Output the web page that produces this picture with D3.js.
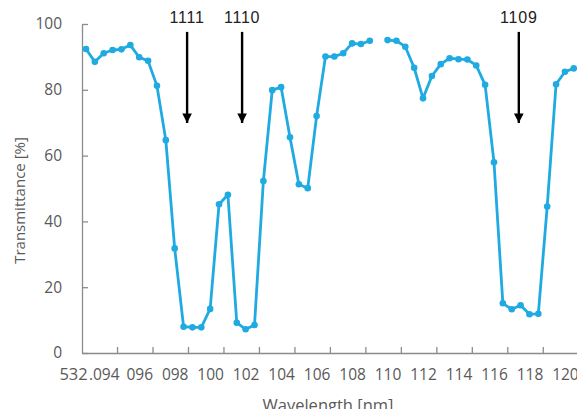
<!DOCTYPE html>
<html>
<head>
<meta charset="utf-8">
<script src="https://cdn.jsdelivr.net/npm/d3@7"></script>
<style>
  body { margin: 0; background: #fff; }
  svg { display: block; }
  .tick text { font-family: "Open Sans", sans-serif; fill: #595959; }
</style>
</head>
<body>
<div id="chart"></div>
<script>
// wavelength offsets, 532.0xx nm (pm part), one point every 0.5 pm
const wavelengths = [93, 93.5, 94, 94.5, 95, 95.5, 96, 96.5, 97, 97.5,
  98, 98.5, 99, 99.5, 100, 100.5, 101, 101.5, 102, 102.5,
  103, 103.5, 104, 104.5, 105, 105.5, 106, 106.5, 107, 107.5,
  108, 108.5, 109, 109.5, 110, 110.5, 111, 111.5, 112, 112.5,
  113, 113.5, 114, 114.5, 115, 115.5, 116, 116.5, 117, 117.5,
  118, 118.5, 119, 119.5, 120, 120.5]
const transmittance = [92.4, 88.5, 91.1, 92.1, 92.3, 93.6, 89.9, 88.8, 81.2, 64.7,
  31.8, 8.0, 7.8, 7.8, 13.4, 45.2, 48.1, 9.2, 7.2, 8.5,
  52.3, 79.9, 80.8, 65.6, 51.3, 50.1, 72.0, 90.1, 90.1, 91.1,
  94.1, 93.9, 94.9, null, 95.1, 94.9, 93.1, 86.7, 77.4, 84.2,
  87.8, 89.6, 89.3, 89.2, 87.4, 81.5, 58.0, 15.1, 13.3, 14.5,
  11.8, 11.9, 44.5, 81.7, 85.5, 86.5]

const xLabels = [94, 96, 98, 100, 102, 104, 106, 108, 110, 112, 114, 116, 118, 120]
const xTickMarks = [94.75, 96.75, 98.75, 100.75, 102.75, 104.75, 106.75, 108.75, 110.75, 112.75, 114.75, 116.75, 118.75, 120.75]
const yTicks = [0, 20, 40, 60, 80, 100]

// absorption lines marked with arrows
const arrowLabels = ['1111', '1110', '1109']
const arrowAt = [98.7, 101.8, 117.4]

const width = 577, height = 409
const margin = {top: 24, right: 0, bottom: 56, left: 82}

const svg = d3.select('#chart').append('svg')
    .attr('width', width)
    .attr('height', height)

const x = d3.scaleLinear()
    .domain([92.775, 120.68])
    .range([margin.left, width - margin.right])

const y = d3.scaleLinear()
    .domain([0, 100])
    .range([height - margin.bottom, margin.top])

const axisColor = '#8c8c8c'

// y axis (ticks pointing inward)
const yAxis = svg.append('g')
    .attr('transform', `translate(${margin.left},0)`)
    .call(d3.axisLeft(y).tickValues(yTicks).tickSizeInner(-6).tickSizeOuter(0).tickPadding(20))
yAxis.select('.domain').attr('stroke', axisColor).attr('stroke-width', 1.3)
yAxis.selectAll('.tick line').attr('stroke', axisColor).attr('stroke-width', 1.3)
yAxis.selectAll('.tick text').attr('font-size', 15.5)

// x axis: tick marks between categories, labels on their own
const xAxis = svg.append('g')
    .attr('transform', `translate(0,${y(0)})`)
    .call(d3.axisBottom(x).tickValues(xTickMarks).tickSizeInner(-6).tickSizeOuter(0).tickFormat(''))
xAxis.select('.domain').attr('stroke', axisColor).attr('stroke-width', 1.3)
xAxis.selectAll('.tick line').attr('stroke', axisColor).attr('stroke-width', 1.3)

const xLab = svg.append('g')
    .attr('transform', `translate(0,${y(0)})`)
    .call(d3.axisBottom(x).tickValues(xLabels).tickSize(0).tickPadding(16)
        .tickFormat(d => (d === 94 ? '.' : '') + String(d).padStart(3, '0').slice(-3)))
xLab.select('.domain').remove()
xLab.selectAll('.tick text').attr('font-size', 15.5)

// the "532" prefix in front of the first label
svg.append('text')
    .attr('x', x(94) - 16)
    .attr('y', y(0) + 27)
    .attr('text-anchor', 'end')
    .attr('font-family', 'Open Sans, sans-serif')
    .attr('font-size', 16.5)
    .attr('fill', '#595959')
    .text('532')

// axis titles
svg.append('text')
    .attr('transform', `translate(25,${(y(0) + y(100)) / 2 + 12}) rotate(-90)`)
    .attr('text-anchor', 'middle')
    .attr('font-family', 'Open Sans, sans-serif')
    .attr('font-size', 15)
    .attr('fill', '#595959')
    .text('Transmittance [%]')

svg.append('text')
    .attr('x', 328)
    .attr('y', 411)
    .attr('text-anchor', 'middle')
    .attr('font-family', 'Open Sans, sans-serif')
    .attr('font-size', 16.5)
    .attr('fill', '#595959')
    .text('Wavelength [nm]')

// data line
const data = wavelengths.map((w, i) => ({w: w, t: transmittance[i]}))
const lineColor = '#1faae2'

const line = d3.line()
    .defined(d => d.t !== null)
    .x(d => x(d.w))
    .y(d => y(d.t))

svg.append('path')
    .datum(data)
    .attr('fill', 'none')
    .attr('stroke', lineColor)
    .attr('stroke-width', 2.8)
    .attr('stroke-linejoin', 'round')
    .attr('d', line)

svg.selectAll('.pt')
    .data(data.filter(d => d.t !== null))
    .enter()
    .append('circle')
    .attr('class', 'pt')
    .attr('cx', d => x(d.w))
    .attr('cy', d => y(d.t))
    .attr('r', 3.3)
    .attr('fill', lineColor)

// arrows
svg.append('defs').append('marker')
    .attr('id', 'head')
    .attr('viewBox', '0 0 10 10')
    .attr('refX', 10)
    .attr('refY', 5)
    .attr('markerWidth', 4)
    .attr('markerHeight', 4)
    .attr('markerUnits', 'strokeWidth')
    .attr('orient', 'auto')
    .append('path')
    .attr('d', 'M0,0 L10,5 L0,10 Z')
    .attr('fill', '#000')

arrowAt.forEach((w, i) => {
    svg.append('line')
        .attr('x1', x(w)).attr('x2', x(w))
        .attr('y1', y(97.6)).attr('y2', y(69.9))
        .attr('stroke', '#000')
        .attr('stroke-width', 2.4)
        .attr('marker-end', 'url(#head)')

    svg.append('text')
        .attr('x', x(w))
        .attr('y', 23)
        .attr('text-anchor', 'middle')
        .attr('font-family', '"Liberation Sans", Arial, sans-serif')
        .attr('font-size', 16)
        .attr('letter-spacing', 0.8)
        .attr('fill', '#222')
        .text(arrowLabels[i])
})
</script>
</body>
</html>
